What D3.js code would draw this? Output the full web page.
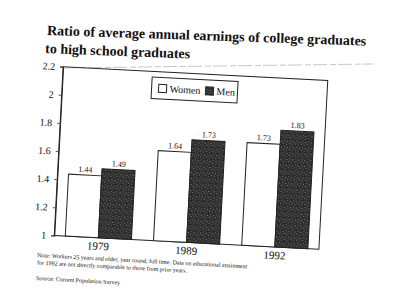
<!DOCTYPE html>
<html>
<head>
<meta charset="utf-8">
<script src="https://cdn.jsdelivr.net/npm/d3@7"></script>
<style>
  body { margin: 0; background: #fff; }
  text { font-family: "Liberation Serif", "Times New Roman", serif; fill: #111; }
</style>
</head>
<body>
<div id="chart"></div>
<script>
// DATA
const years = ['1979', '1989', '1992'];
const series = ['Women', 'Men'];
const women = [1.44, 1.64, 1.73];
const men = [1.49, 1.73, 1.83];
const yTicks = [1, 1.2, 1.4, 1.6, 1.8, 2, 2.2];
const titleLines = ['Ratio of average annual earnings of college graduates', 'to high school graduates'];
const noteLines = [
    'Note:  Workers 25 years and older, year round, full time.  Data on educational attainment',
    'for 1992 are not directly comparable to those from prior years.'
];
const sourceLine = 'Source:  Current Population Survey';

const width = 400, height = 305;
const plot = { left: 58.5, top: 73.5, width: 265, height: 169 };

const svg = d3.select('#chart')
    .append('svg')
    .attr('width', width)
    .attr('height', height);

// grainy dark fill for the men bars
const defs = svg.append('defs');
const pat = defs.append('pattern')
    .attr('id', 'stipple')
    .attr('width', 6).attr('height', 6)
    .attr('patternUnits', 'userSpaceOnUse');
pat.append('rect').attr('width', 6).attr('height', 6).attr('fill', '#2f2f2f');
[[0, 0, '#777'], [3, 1, '#5a5a5a'], [1, 3, '#666'], [4, 4, '#808080'], [5, 2, '#1c1c1c'], [2, 5, '#4a4a4a']]
    .forEach(p => pat.append('rect')
        .attr('x', p[0]).attr('y', p[1])
        .attr('width', 1).attr('height', 1)
        .attr('fill', p[2]));

// TITLE
titleLines.forEach((t, i) => {
    svg.append('text')
        .attr('transform', `translate(${i ? 45 : 47},${i ? 53 : 35}) rotate(${i ? 2.2 : 1.9})`)
        .attr('font-size', 14)
        .attr('font-weight', 'bold')
        .attr('fill', '#1a1a1a')
        .text(t);
});

// faint rule under the title
svg.append('line')
    .attr('x1', 63).attr('y1', 68).attr('x2', 373).attr('y2', 64)
    .attr('stroke', '#c8c8c8')
    .attr('stroke-width', 1)
    .attr('stroke-dasharray', '14,3,6,2');

// PLOT (scanned page is slightly rotated)
const g = svg.append('g')
    .attr('transform', `rotate(3, ${plot.left + plot.width / 2}, ${plot.top + plot.height / 2})`);

const x0 = d3.scaleBand()
    .domain(years)
    .range([plot.left, plot.left + plot.width])
    .paddingInner(0.25)
    .paddingOuter(0.125);

const x1 = d3.scaleBand()
    .domain(series)
    .range([0, x0.bandwidth()]);

const y = d3.scaleLinear()
    .domain([1, 2.2])
    .range([plot.top + plot.height, plot.top]);

// frame
g.append('rect')
    .attr('x', plot.left).attr('y', plot.top)
    .attr('width', plot.width).attr('height', plot.height)
    .attr('fill', 'none')
    .attr('stroke', '#222')
    .attr('stroke-width', 1);

// Y AXIS
const yAxis = g.append('g')
    .attr('transform', `translate(${plot.left},0)`)
    .call(d3.axisLeft(y).tickValues(yTicks).tickSize(3).tickPadding(5).tickFormat(d3.format('')));
yAxis.select('.domain').attr('stroke', '#222');
yAxis.selectAll('line').attr('stroke', '#555');
yAxis.selectAll('text')
    .attr('font-size', 10)
    .attr('font-family', '"Liberation Serif", serif')
    .attr('fill', '#333');

// BARS
const data = years.map((yr, i) => ({ year: yr, vals: [women[i], men[i]] }));
const groups = g.selectAll('.grp')
    .data(data)
    .enter()
    .append('g')
    .attr('transform', d => `translate(${x0(d.year)},0)`);

groups.selectAll('rect')
    .data(d => d.vals.map((v, j) => ({ key: series[j], v })))
    .enter()
    .append('rect')
    .attr('x', d => x1(d.key))
    .attr('y', d => y(d.v))
    .attr('width', x1.bandwidth())
    .attr('height', d => y(1) - y(d.v))
    .attr('fill', d => d.key === 'Men' ? 'url(#stipple)' : '#fff')
    .attr('stroke', '#222')
    .attr('stroke-width', 1);

groups.selectAll('.val')
    .data(d => d.vals.map((v, j) => ({ key: series[j], v })))
    .enter()
    .append('text')
    .attr('x', d => x1(d.key) + x1.bandwidth() / 2)
    .attr('y', d => y(d.v) - 3)
    .attr('text-anchor', 'middle')
    .attr('font-size', 8)
    .text(d => d.v.toFixed(2));

// X LABELS
g.selectAll('.xl')
    .data(years)
    .enter()
    .append('text')
    .attr('x', d => x0(d) + x0.bandwidth() / 2)
    .attr('y', plot.top + plot.height + 12)
    .attr('text-anchor', 'middle')
    .attr('font-size', 11)
    .text(d => d);

// LEGEND
const lg = g.append('g')
    .attr('transform', `translate(${plot.left + 89.5},${plot.top + 5.6})`);
lg.append('rect')
    .attr('width', 86).attr('height', 21.6)
    .attr('fill', '#fff')
    .attr('stroke', '#222');
const items = [{ key: 'Women', x: 7 }, { key: 'Men', x: 54 }];
items.forEach(it => {
    lg.append('rect')
        .attr('x', it.x).attr('y', 7)
        .attr('width', 8).attr('height', 8)
        .attr('fill', it.key === 'Men' ? 'url(#stipple)' : '#fff')
        .attr('stroke', '#222');
    lg.append('text')
        .attr('x', it.x + 11).attr('y', 14.5)
        .attr('font-size', 10)
        .text(it.key);
});

// NOTES
noteLines.forEach((t, i) => {
    svg.append('text')
        .attr('transform', `translate(37,${257 + i * 7.5}) rotate(3.1)`)
        .attr('font-size', 6)
        .text(t);
});
svg.append('text')
    .attr('transform', 'translate(36,280) rotate(3.1)')
    .attr('font-size', 6)
    .text(sourceLine);
</script>
</body>
</html>
